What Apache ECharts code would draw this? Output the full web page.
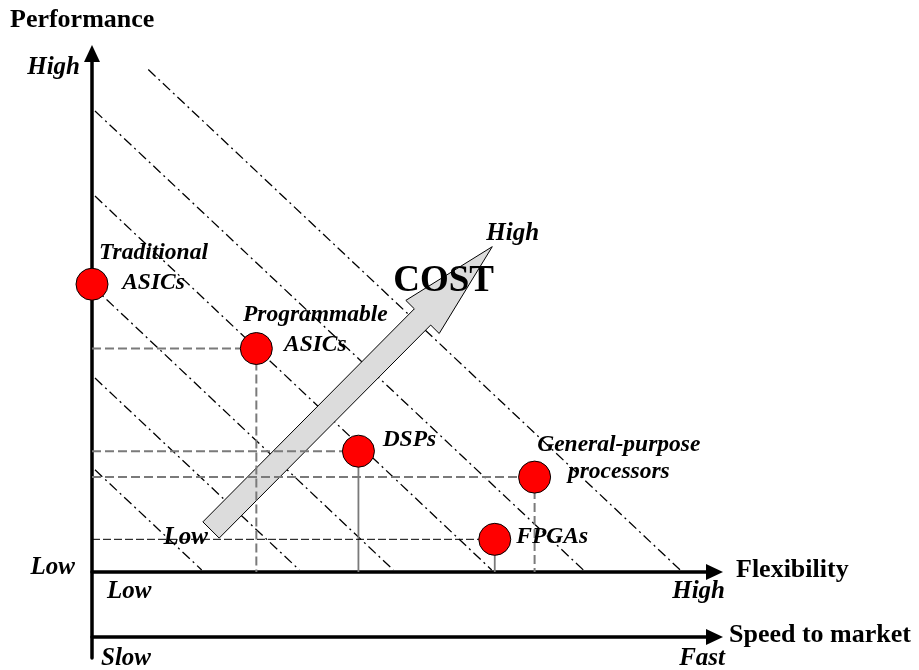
<!DOCTYPE html>
<html>
<head>
<meta charset="utf-8">
<script src="https://cdn.jsdelivr.net/npm/echarts@6/dist/echarts.min.js"></script>
<style>
  html, body { margin: 0; padding: 0; background: #fff; }
  #chart { width: 919px; height: 670px; }
</style>
</head>
<body>
<div id="chart"></div>
<script>
// Technologies on the flexibility (x) / performance (y) plane, 0–10 scale
const techNames = ['Traditional\nASICs', 'Programmable\nASICs', 'DSPs', 'General-purpose\nprocessors', 'FPGAs'];
const flexibility = [0, 2.64, 4.28, 7.11, 6.47];
const performance = [5.55, 4.31, 2.33, 1.83, 0.63];

// Iso-cost contours (dash-dot), start and end points [x, y]
const contourStarts = [[0.904, 9.69], [0.048, 8.89], [0.048, 7.25], [0, 5.52], [0.048, 3.74], [0.048, 1.97]];
const contourEnds = [[9.448, 0.04], [7.892, 0.04], [6.421, 0.04], [4.840, 0.04], [3.330, 0.04], [1.762, 0.04]];

// Cost arrow, from its low end to its high end
const costFrom = [1.912, 0.81];
const costTo = [6.43, 6.274];

const FONT = "'Liberation Serif', 'Times New Roman', serif";

// Drop-line styles per technology (horizontal to the y axis, vertical to the x axis)
const grayDash = { color: '#7a7a7a', width: 2, type: [9, 4] };
const graySolid = { color: '#7a7a7a', width: 1.8, type: 'solid' };
const blackDash = { color: '#000', width: 1, type: [8, 3] };
const guideStyles = [
  null,
  { h: grayDash, v: grayDash },
  { h: grayDash, v: graySolid },
  { h: grayDash, v: grayDash },
  { h: blackDash, v: graySolid }
];

// Label placement relative to each marker's 32px box
const labelLayouts = [
  { position: [78, 0], align: 'center', lineHeight: 30 },
  { position: [75.5, -2.5], align: 'center', lineHeight: 30 },
  { position: [40.7, 5.5], align: 'left', lineHeight: 30 },
  { position: [100.7, -2.2], align: 'center', lineHeight: 27.5 },
  { position: [38, 14], align: 'left', lineHeight: 30 }
];

const series = [];

// dash-dot contours
contourStarts.forEach((s, i) => {
  series.push({
    type: 'line', silent: true, symbol: 'none', z: 1,
    data: [s, contourEnds[i]],
    lineStyle: { color: '#000', width: 1.3, type: [10, 4, 2, 4] }
  });
});

// cost arrow
series.push({
  type: 'custom', silent: true, z: 2,
  data: [[costFrom[0], costFrom[1], costTo[0], costTo[1]]],
  encode: { x: [0, 2], y: [1, 3] },
  renderItem: function (params, api) {
    const p0 = api.coord([api.value(0), api.value(1)]);
    const p1 = api.coord([api.value(2), api.value(3)]);
    const dx = p1[0] - p0[0], dy = p1[1] - p0[1];
    const len = Math.hypot(dx, dy);
    const ux = dx / len, uy = dy / len, nx = -uy, ny = ux;
    const shaft = 11.5, head = 23.5, headLen = 99;
    const bx = p1[0] - ux * headLen, by = p1[1] - uy * headLen;
    const pts = [
      [p0[0] + nx * shaft, p0[1] + ny * shaft],
      [bx + nx * shaft, by + ny * shaft],
      [bx + nx * head, by + ny * head],
      p1,
      [bx - nx * head, by - ny * head],
      [bx - nx * shaft, by - ny * shaft],
      [p0[0] - nx * shaft, p0[1] - ny * shaft]
    ];
    return {
      type: 'group',
      children: [
        { type: 'polygon', shape: { points: pts }, style: { fill: '#dcdcdc', stroke: '#000', lineWidth: 1 } },
        { type: 'text', style: { x: (p0[0] + p1[0]) / 2 + 92, y: (p0[1] + p1[1]) / 2 - 107, text: 'COST', fill: '#000', font: 'bold 37px ' + FONT, align: 'center', verticalAlign: 'middle' } },
        { type: 'text', style: { x: p0[0] - 3, y: p0[1] + 8, text: 'Low', fill: '#000', font: 'italic bold 25px ' + FONT, align: 'right', verticalAlign: 'middle' } },
        { type: 'text', style: { x: p1[0] - 6, y: p1[1] - 13, text: 'High', fill: '#000', font: 'italic bold 25px ' + FONT, align: 'left', verticalAlign: 'middle' } }
      ]
    };
  }
});

// drop lines
techNames.forEach((n, i) => {
  const g = guideStyles[i];
  if (!g) return;
  series.push({
    type: 'line', silent: true, symbol: 'none', z: 3,
    data: [[0, performance[i]], [flexibility[i], performance[i]]],
    lineStyle: g.h
  });
  series.push({
    type: 'line', silent: true, symbol: 'none', z: 3,
    data: [[flexibility[i], performance[i]], [flexibility[i], 0]],
    lineStyle: g.v
  });
});

// technology markers
series.push({
  type: 'scatter', z: 5, symbol: 'circle', symbolSize: 32,
  itemStyle: { color: '#ff0000', borderColor: '#000', borderWidth: 1, opacity: 1 },
  label: {
    show: true, formatter: p => p.name, color: '#000',
    fontFamily: FONT, fontStyle: 'italic', fontWeight: 'bold', fontSize: 23.5,
    verticalAlign: 'middle'
  },
  data: techNames.map((n, i) => ({
    name: n, value: [flexibility[i], performance[i]], label: labelLayouts[i]
  }))
});

const axisLine = (show) => ({
  show: show, onZero: true,
  symbol: ['none', 'triangle'], symbolSize: [16, 17],
  lineStyle: { color: '#000', width: 3.5 }
});

const chart = echarts.init(document.getElementById('chart'), null, { renderer: 'canvas' });
chart.setOption({
  animation: false,
  backgroundColor: '#fff',
  grid: { left: 92, right: 204.5, top: 53.5, bottom: 12 },
  xAxis: [
    { type: 'value', min: 0, max: 10, axisLine: axisLine(true), axisTick: { show: false }, axisLabel: { show: false }, splitLine: { show: false } },
    { type: 'value', min: 0, max: 10, position: 'bottom', offset: -21, axisLine: Object.assign(axisLine(true), { onZero: false }), axisTick: { show: false }, axisLabel: { show: false }, splitLine: { show: false } }
  ],
  yAxis: { type: 'value', min: -1.659, max: 10, axisLine: axisLine(true), axisTick: { show: false }, axisLabel: { show: false }, splitLine: { show: false } },
  series: series
});

// axis titles and end labels, anchored to the axes
const origin = chart.convertToPixel({ xAxisIndex: 0, yAxisIndex: 0 }, [0, 0]);
const corner = chart.convertToPixel({ xAxisIndex: 0, yAxisIndex: 0 }, [10, 10]);
const xTip = corner[0] + 8.5, yTip = corner[1] - 8.5;
const speedY = origin[1] + 65;
const boldFont = 'bold 26px ' + FONT, italFont = 'italic bold 25px ' + FONT;
const txt = (x, y, text, font, align) => ({
  type: 'text', x: x, y: y,
  style: { text: text, font: font, fill: '#000', align: align, verticalAlign: 'middle' }
});
chart.setOption({
  graphic: [
    txt(origin[0] - 82, yTip - 25, 'Performance', boldFont, 'left'),
    txt(origin[0] - 12, yTip + 23, 'High', italFont, 'right'),
    txt(origin[0] - 17, origin[1] - 4, 'Low', italFont, 'right'),
    txt(origin[0] + 15, origin[1] + 20, 'Low', italFont, 'left'),
    txt(xTip + 2, origin[1] + 20, 'High', italFont, 'right'),
    txt(xTip + 13, origin[1] - 2, 'Flexibility', boldFont, 'left'),
    txt(xTip + 6, speedY - 1.5, 'Speed to market', boldFont, 'left'),
    txt(origin[0] + 9, speedY + 22, 'Slow', italFont, 'left'),
    txt(xTip + 2, speedY + 22, 'Fast', italFont, 'right')
  ]
});
</script>
</body>
</html>
